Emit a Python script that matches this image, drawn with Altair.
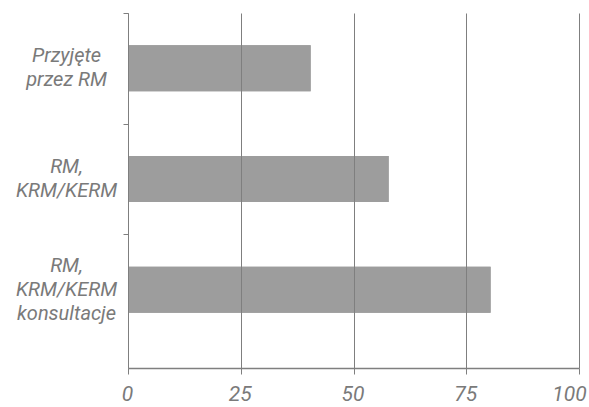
import altair as alt
import pandas as pd

# Categories (line breaks marked with "|"), values in percent, x-axis ticks
categories = ["Przyjęte|przez RM", "RM,|KRM/KERM", "RM,|KRM/KERM|konsultacje"]
values = [40.5, 57.8, 80.4]
x_ticks = [0, 25, 50, 75, 100]

df = pd.DataFrame({"kategoria": categories, "wartosc": values})

FONT = "Roboto"
GREY_TEXT = "#7a7a7a"
GREY_LINE = "#7f7f7f"
LINE_H = 24

W, H = 451, 355
P_INNER, P_OUTER, ALIGN = 0.5845, 0.396, 0.369
step = H / (len(categories) - P_INNER + 2 * P_OUTER)

y_scale = alt.Scale(paddingInner=P_INNER, paddingOuter=P_OUTER, align=ALIGN)
x_scale = alt.Scale(domain=[0, 100], nice=False)

x_axis = alt.Axis(
    values=x_ticks,
    grid=True,
    gridColor=GREY_LINE,
    gridWidth=1,
    gridOpacity=1,
    domainColor=GREY_LINE,
    domainWidth=1.6,
    tickColor=GREY_LINE,
    tickSize=6,
    tickWidth=1,
    labelFont=FONT,
    labelFontStyle="italic",
    labelFontSize=21,
    labelColor=GREY_TEXT,
    labelPadding=9,
    labelFlush=False,
    labelOffset={"condition": {"test": "datum.value == 100", "value": -10}, "value": -1},
    zindex=1,
)

# Category labels on the left axis; multi-line labels are lifted to stay centred on their bar
label_axis = alt.Axis(
    orient="left",
    domainColor=GREY_LINE,
    domainWidth=1,
    ticks=False,
    labelExpr="split(datum.label, '|')",
    labelFont=FONT,
    labelFontStyle="italic",
    labelFontSize=20,
    labelLineHeight=LINE_H,
    labelColor=GREY_TEXT,
    labelAlign="center",
    labelBaseline="middle",
    labelPadding=62,
    labelOffset={
        "condition": {"test": "indexof(datum.label, 'konsultacje') >= 0", "value": -LINE_H},
        "value": -LINE_H / 2,
    },
    zindex=1,
)

# Tick marks between categories
tick_axis = alt.Axis(
    orient="left",
    domain=False,
    labels=False,
    grid=False,
    tickColor=GREY_LINE,
    tickSize=5,
    tickWidth=1,
    bandPosition=0,
    tickOffset=-step * P_INNER / 2,
    tickExtra=False,
    zindex=1,
)

bars = alt.Chart(df).mark_bar(color="#9d9d9d").encode(
    x=alt.X("wartosc:Q", title=None, scale=x_scale, axis=x_axis),
    y=alt.Y("kategoria:N", title=None, sort=categories, scale=y_scale, axis=label_axis),
)

ticks = alt.Chart(df).mark_bar(color="#9d9d9d").encode(
    x=alt.X("wartosc:Q", title=None, scale=x_scale, axis=x_axis),
    y=alt.Y("kategoria:N", title=None, sort=categories, scale=y_scale, axis=tick_axis),
)

chart = alt.layer(bars, ticks).resolve_axis(y="independent").properties(
    width=W,
    height=H,
    autosize=alt.AutoSizeParams(type="none"),
    padding={"left": 128, "top": 13, "right": 10, "bottom": 39},
).configure_view(stroke=None)

chart.save("out.html", embed_options={"renderer": "svg", "actions": False})
